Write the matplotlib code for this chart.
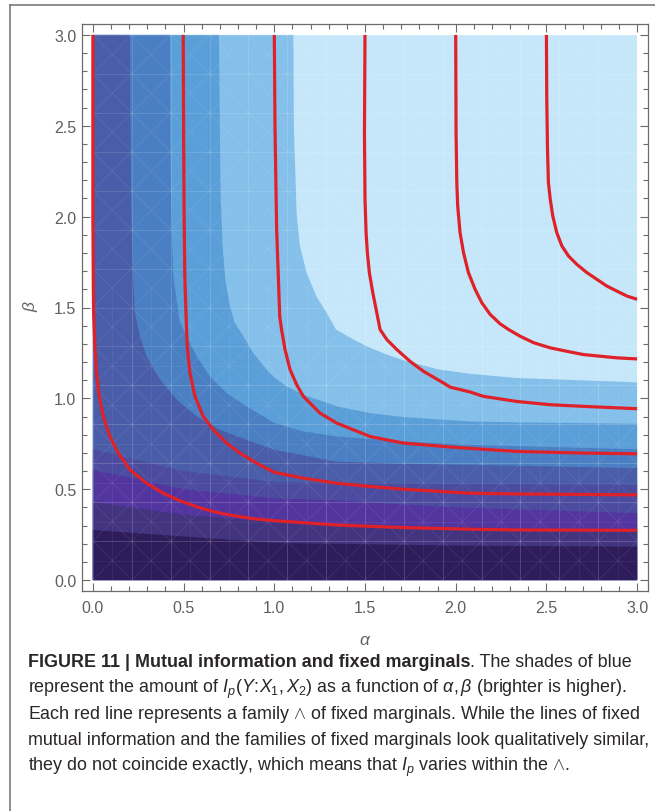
import matplotlib
matplotlib.use("Agg")
import matplotlib.pyplot as plt
from matplotlib.patches import Polygon, Rectangle
from matplotlib.lines import Line2D
from matplotlib.ticker import MultipleLocator, FormatStrFormatter

plt.rcParams['font.family'] = ['Liberation Sans', 'DejaVu Sans']
plt.rcParams['mathtext.fontset'] = 'custom'
plt.rcParams['mathtext.rm'] = 'Liberation Sans'
plt.rcParams['mathtext.it'] = 'Liberation Sans:italic'
plt.rcParams['mathtext.bf'] = 'Liberation Sans:bold'

# shades of I_p, brightest first
shade_colors = ['#c6e7f9', '#84c0ea', '#5b9fd9', '#4b7fc4', '#4a5da8',
                '#4b4c9f', '#5335a0', '#433480', '#2e1d5a']

# borders between the shades, (alpha, beta)
border_1 = [(1.105, 3.0), (1.108, 2.48), (1.117, 2.21), (1.123, 2.02), (1.141, 1.84),
            (1.178, 1.69), (1.233, 1.56), (1.289, 1.47), (1.34, 1.379), (1.436, 1.324),
            (1.528, 1.278), (1.62, 1.241), (1.712, 1.21), (1.90, 1.16), (2.08, 1.135),
            (2.337, 1.112), (2.704, 1.099), (3.0, 1.088)]
border_2 = [(0.695, 3.0), (0.70, 2.48), (0.704, 2.11), (0.715, 1.84), (0.73, 1.655),
            (0.755, 1.51), (0.78, 1.42), (0.829, 1.342), (0.884, 1.25), (0.958, 1.158),
            (1.0, 1.115), (1.068, 1.066), (1.16, 1.02), (1.252, 0.989), (1.344, 0.956),
            (1.528, 0.919), (1.712, 0.897), (2.08, 0.873), (2.337, 0.868), (3.0, 0.86)]
border_3 = [(0.425, 3.0), (0.428, 2.30), (0.434, 1.93), (0.445, 1.655), (0.48, 1.42),
            (0.517, 1.342), (0.572, 1.232), (0.645, 1.121), (0.737, 1.029),
            (0.847, 0.956), (1.0, 0.865), (1.16, 0.818), (1.344, 0.79), (1.712, 0.763),
            (2.08, 0.744), (3.0, 0.72)]
border_4 = [(0.204, 3.0), (0.207, 2.5), (0.212, 2.0), (0.222, 1.655), (0.232, 1.471),
            (0.259, 1.342), (0.296, 1.232), (0.37, 1.103), (0.462, 0.993),
            (0.572, 0.901), (0.70, 0.827), (0.847, 0.772), (1.0, 0.717), (1.344, 0.652),
            (1.712, 0.64), (2.08, 0.634), (3.0, 0.616)]
border_5 = [(0.0, 0.72), (0.25, 0.66), (0.5, 0.60), (1.0, 0.54), (2.0, 0.528),
            (3.0, 0.524)]
border_6 = [(0.0, 0.607), (0.5, 0.50), (1.0, 0.45), (1.31, 0.44), (2.0, 0.40),
            (3.0, 0.368)]
border_7 = [(0.0, 0.43), (0.5, 0.36), (1.0, 0.32), (1.31, 0.31), (2.0, 0.29),
            (3.0, 0.276)]
border_8 = [(0.0, 0.276), (0.5, 0.24), (1.0, 0.205), (2.0, 0.19), (3.0, 0.184)]
borders = [border_1, border_2, border_3, border_4, border_5, border_6, border_7, border_8]

# red lines: families of fixed marginals
family_1 = [(0.0, 3.0), (0.0, 2.5), (0.0, 2.0), (0.002, 1.655), (0.004, 1.471),
            (0.011, 1.287), (0.02, 1.14), (0.035, 1.011), (0.057, 0.901),
            (0.094, 0.79), (0.14, 0.699), (0.204, 0.607), (0.296, 0.533),
            (0.388, 0.478), (0.48, 0.437), (0.571, 0.404), (0.664, 0.377),
            (0.756, 0.358), (0.884, 0.338), (1.0, 0.327), (1.16, 0.316),
            (1.344, 0.303), (1.712, 0.289), (2.08, 0.28), (2.337, 0.276), (3.0, 0.274)]
family_2 = [(0.498, 3.0), (0.50, 2.5), (0.503, 2.0), (0.507, 1.655), (0.513, 1.471),
            (0.52, 1.287), (0.535, 1.14), (0.563, 1.011), (0.608, 0.901),
            (0.664, 0.827), (0.737, 0.754), (0.81, 0.699), (0.903, 0.643),
            (1.0, 0.593), (1.16, 0.561), (1.344, 0.533), (1.528, 0.515),
            (1.712, 0.50), (2.08, 0.478), (2.337, 0.474), (3.0, 0.469)]
family_3 = [(1.0, 3.0), (1.004, 2.48), (1.013, 1.93), (1.03, 1.45), (1.04, 1.379),
            (1.059, 1.269), (1.087, 1.158), (1.123, 1.076), (1.16, 1.011),
            (1.252, 0.919), (1.344, 0.864), (1.528, 0.79), (1.712, 0.754),
            (2.0, 0.73), (2.337, 0.708), (2.704, 0.699), (3.0, 0.695)]
family_4 = [(1.5, 3.0), (1.497, 2.46), (1.5, 2.096), (1.506, 1.912), (1.513, 1.802),
            (1.524, 1.692), (1.543, 1.581), (1.565, 1.471), (1.583, 1.379),
            (1.62, 1.324), (1.675, 1.269), (1.748, 1.204), (1.822, 1.149),
            (1.932, 1.085), (1.969, 1.062), (2.08, 1.035), (2.153, 1.011),
            (2.337, 0.983), (2.521, 0.965), (2.704, 0.956), (3.0, 0.943)]
family_5 = [(2.0, 3.0), (2.002, 2.464), (2.006, 2.188), (2.011, 2.059), (2.024, 1.912),
            (2.043, 1.802), (2.07, 1.692), (2.107, 1.6), (2.144, 1.526),
            (2.19, 1.462), (2.245, 1.41), (2.291, 1.379), (2.355, 1.342),
            (2.43, 1.306), (2.521, 1.278), (2.613, 1.259), (2.704, 1.241),
            (2.796, 1.232), (2.888, 1.223), (3.0, 1.217)]
family_6 = [(2.5, 3.0), (2.502, 2.648), (2.506, 2.372), (2.511, 2.188), (2.521, 2.096),
            (2.535, 2.004), (2.557, 1.912), (2.585, 1.839), (2.622, 1.783),
            (2.668, 1.737), (2.723, 1.692), (2.778, 1.655), (2.833, 1.618),
            (2.889, 1.59), (2.944, 1.563), (3.0, 1.545)]
families = [family_1, family_2, family_3, family_4, family_5, family_6]

W, H = 655, 812
fig = plt.figure(figsize=(W / 100, H / 100), dpi=100)
ax = fig.add_axes([82 / W, 1 - 592 / H, 566 / W, 567 / H])

# painter's way: brightest everywhere, then each darker shade below its border
ax.add_patch(Rectangle((0, 0), 3, 3, facecolor=shade_colors[0], edgecolor='none', zorder=1))
for border, color in zip(borders, shade_colors[1:]):
    pts = [(0, 3)] + border + [(3, 0), (0, 0)]
    ax.add_patch(Polygon(pts, closed=True, facecolor=color, edgecolor='none', zorder=1))

# faint mesh texture like the original rendering
clip = Rectangle((0, 0), 3, 3, transform=ax.transData)
step = 3 / 14
for k in range(15):
    v = k * step
    for xs, ys in [([v, v], [0, 3]), ([0, 3], [v, v])]:
        ln, = ax.plot(xs, ys, color='white', lw=0.6, alpha=0.15, zorder=2)
        ln.set_clip_path(clip)
for k in range(-14, 15):
    c = k * step
    for xs, ys in [([0, 3], [c, c + 3]), ([0, 3], [3 - c, -c])]:
        ln, = ax.plot(xs, ys, color='white', lw=0.5, alpha=0.10, zorder=2)
        ln.set_clip_path(clip)
for k in range(29):
    v = k * step / 2
    ln, = ax.plot([v, v], [0, 1.6], color='white', lw=0.5, alpha=0.08, zorder=2)
    ln.set_clip_path(clip)
    if v < 1.2:
        ln, = ax.plot([0, 3], [v, v], color='white', lw=0.5, alpha=0.08, zorder=2)
        ln.set_clip_path(clip)

for fam in families:
    a = [p[0] for p in fam]
    b = [p[1] for p in fam]
    ax.plot(a, b, color='#df2129', lw=2.3, zorder=3, solid_capstyle='butt',
            solid_joinstyle='round')

ax.set_xlim(-0.06, 3.06)
ax.set_ylim(-0.06, 3.06)
for ax_ in (ax.xaxis, ax.yaxis):
    ax_.set_major_locator(MultipleLocator(0.5))
    ax_.set_minor_locator(MultipleLocator(0.1))
    ax_.set_major_formatter(FormatStrFormatter('%.1f'))
for s in ax.spines.values():
    s.set_color('#6b6b6b')
    s.set_linewidth(0.9)
ax.tick_params(which='both', direction='in', top=True, right=True,
               color='#6b6b6b', width=0.8, labelcolor='#5f5f5f', labelsize=11.5)
ax.tick_params(which='major', length=6)
ax.tick_params(which='minor', length=3.5)
ax.tick_params(axis='y', pad=4)
ax.tick_params(axis='x', pad=6.5)

fig.text(365 / W, 1 - 641 / H, r'$\alpha$', ha='center', va='center',
         color='#666666', fontsize=12.5)
fig.text(30 / W, 1 - 306 / H, r'$\beta$', ha='center', va='center',
         color='#666666', fontsize=12.5, rotation=90)

# outer frame
fig.add_artist(Line2D([10 / W, 10 / W], [0, 1 - 6 / H], color='#7a7a7a', lw=1.2))
fig.add_artist(Line2D([10 / W, 1], [1 - 6 / H, 1 - 6 / H], color='#7a7a7a', lw=1.2))

# caption
cap_size = 12.9
cap_color = '#2a2627'
x0 = 28 / W
baselines = [667, 693.5, 719, 745, 771]
renderer = fig.canvas.get_renderer()
t1 = fig.text(x0, 1 - baselines[0] / H, 'FIGURE 11 | Mutual information and fixed marginals',
              fontweight='bold', fontsize=cap_size, color=cap_color, va='baseline')
bb = t1.get_window_extent(renderer)
fig.text(bb.x1 / fig.bbox.width, 1 - baselines[0] / H, '. The shades of blue',
         fontsize=cap_size, color=cap_color, va='baseline')
lines = [
    r'represent the amount of $I_p(Y\!:\!X_1,X_2)$ as a function of $\alpha,\beta$ (brighter is higher).',
    r'Each red line represents a family $\wedge$ of fixed marginals. While the lines of fixed',
    'mutual information and the families of fixed marginals look qualitatively similar,',
    r'they do not coincide exactly, which means that $I_p$ varies within the $\wedge$.',
]
for line, yb in zip(lines, baselines[1:]):
    fig.text(x0, 1 - yb / H, line, fontsize=cap_size, color=cap_color, va='baseline')

fig.savefig('out.png', dpi=100)
